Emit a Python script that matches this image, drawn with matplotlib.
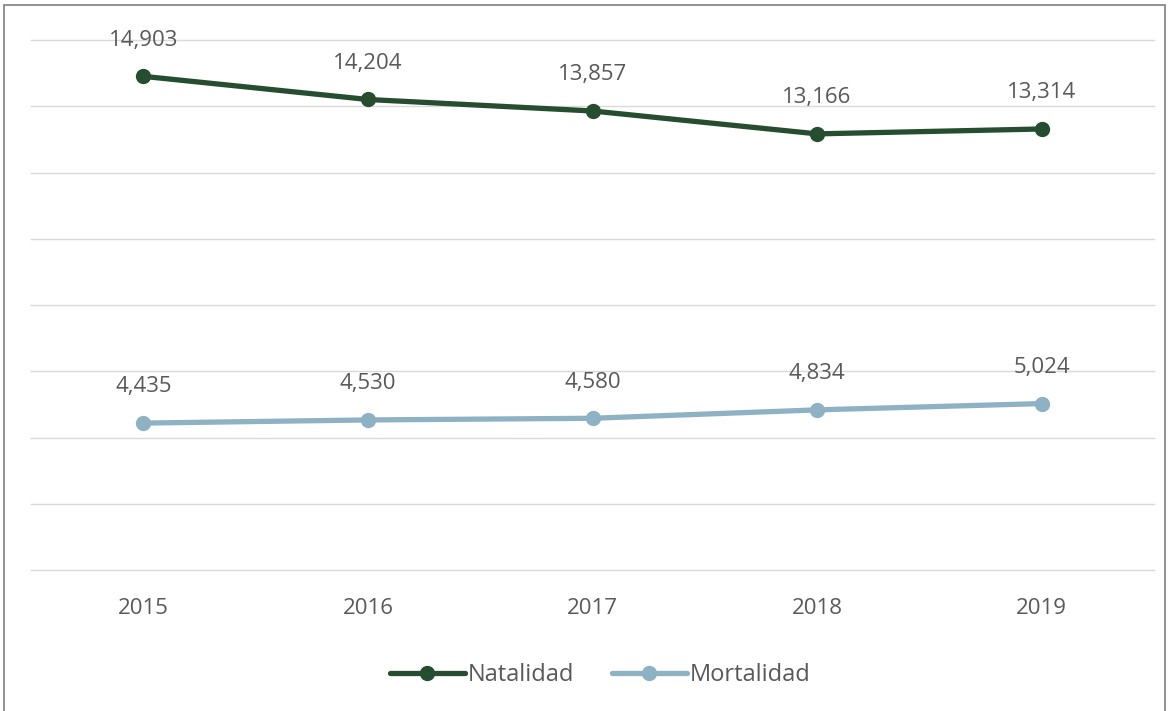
import matplotlib.pyplot as plt
from matplotlib.patches import Rectangle

years = ["2015", "2016", "2017", "2018", "2019"]
natalidad = [14903, 14204, 13857, 13166, 13314]
mortalidad = [4435, 4530, 4580, 4834, 5024]

plt.rcParams['font.family'] = ['Open Sans', 'DejaVu Sans']
txt = '#595959'

fig = plt.figure(figsize=(11.7, 7.11), dpi=100)
ax = fig.add_axes([31/1170, 1 - 570/711, (1154 - 31)/1170, 530/711])

x = list(range(len(years)))
ax.plot(x, natalidad, color='#264D2F', lw=3.8, marker='o', ms=10, label='Natalidad',
        solid_capstyle='round')
ax.plot(x, mortalidad, color='#8FB1C4', lw=3.8, marker='o', ms=10, label='Mortalidad',
        solid_capstyle='round')

for xi, v in zip(x, natalidad):
    ax.annotate(f"{v:,}", (xi, v), xytext=(0, 26), textcoords='offset points',
                ha='center', va='center', fontsize=16, color=txt)
for xi, v in zip(x, mortalidad):
    ax.annotate(f"{v:,}", (xi, v), xytext=(0, 26), textcoords='offset points',
                ha='center', va='center', fontsize=16, color=txt)

ax.set_xlim(-0.5, len(years) - 0.5)
ax.set_ylim(0, 16000)
ax.set_yticks(range(0, 16001, 2000))
ax.set_yticklabels([])
ax.set_xticks(x)
ax.set_xticklabels(years, fontsize=16, color=txt)
ax.tick_params(axis='both', length=0)
ax.tick_params(axis='x', pad=20)
ax.grid(axis='y', color='#D9D9D9', lw=1)
for gl in ax.get_ygridlines():
    gl.set_clip_on(False)
ax.set_axisbelow(True)
for s in ax.spines.values():
    s.set_visible(False)

leg = fig.legend(loc='center', bbox_to_anchor=(600/1170, 1 - 675/711), ncol=2,
                 frameon=False, fontsize=17, handlelength=3.2, columnspacing=1.6,
                 handletextpad=0.1)
for t in leg.get_texts():
    t.set_color(txt)

fig.patches.append(Rectangle((4/1170, -0.01), 1161/1170, 1.01 - 5/711,
                             transform=fig.transFigure, fill=False,
                             edgecolor='#7F7F7F', lw=1.2))

fig.savefig('out.png', dpi=100)
